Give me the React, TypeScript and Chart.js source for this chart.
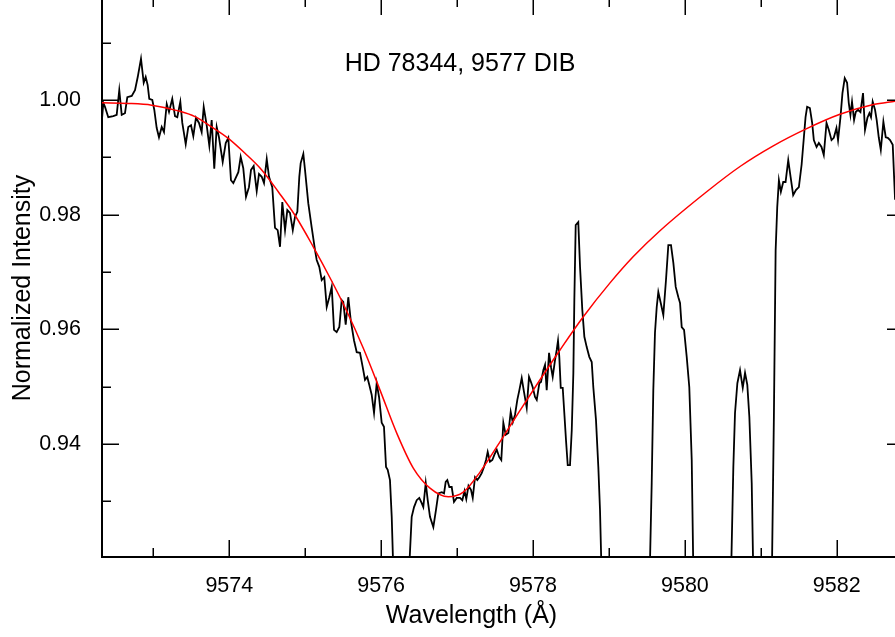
import React, { useEffect, useRef } from "react";
import { Chart, registerables } from "chart.js";

Chart.register(...registerables);

// ---- Axis ranges & ticks ----
const X_MIN = 9572.3235;
const X_MAX = 9582.767;
const Y_MIN = 0.92029;
const Y_MAX = 1.01744;
const X_MAJOR_TICKS = [9574, 9576, 9578, 9580, 9582];
const X_MINOR_TICKS = [9573, 9575, 9577, 9579, 9581];
const Y_MAJOR_TICKS = [0.94, 0.96, 0.98, 1.0];
const Y_MINOR_TICKS = [0.93, 0.95, 0.97, 0.99, 1.01];

const X_TITLE = "Wavelength (Å)";
const Y_TITLE = "Normalized Intensity";
const PLOT_LABEL = "HD 78344, 9577 DIB";

// ---- Observed spectrum ----
const WAVELENGTH = [
  9572.319, 9572.341, 9572.363, 9572.406, 9572.472, 9572.517, 9572.551, 9572.583, 9572.626, 9572.657,
  9572.715, 9572.758, 9572.794, 9572.837, 9572.873, 9572.899, 9572.925, 9572.946, 9572.986, 9573.012,
  9573.044, 9573.074, 9573.110, 9573.140, 9573.176, 9573.206, 9573.249, 9573.285, 9573.315, 9573.355,
  9573.381, 9573.426, 9573.460, 9573.496, 9573.526, 9573.561, 9573.601, 9573.636, 9573.663, 9573.702,
  9573.737, 9573.768, 9573.802, 9573.834, 9573.864, 9573.913, 9573.953, 9573.987, 9574.022, 9574.053,
  9574.119, 9574.150, 9574.184, 9574.220, 9574.259, 9574.286, 9574.321, 9574.361, 9574.391, 9574.427,
  9574.457, 9574.493, 9574.523, 9574.566, 9574.602, 9574.637, 9574.668, 9574.698, 9574.734, 9574.764,
  9574.799, 9574.836, 9574.865, 9574.896, 9574.922, 9574.940, 9574.975, 9574.997, 9575.040, 9575.085,
  9575.129, 9575.151, 9575.185, 9575.217, 9575.251, 9575.283, 9575.317, 9575.349, 9575.379, 9575.414,
  9575.449, 9575.480, 9575.501, 9575.533, 9575.567, 9575.599, 9575.642, 9575.678, 9575.721, 9575.757,
  9575.787, 9575.817, 9575.844, 9575.875, 9575.906, 9575.941, 9575.972, 9576.007, 9576.037, 9576.064,
  9576.086, 9576.116, 9576.139, 9576.189, 9576.248, 9576.320, 9576.402, 9576.433, 9576.468, 9576.502,
  9576.534, 9576.555, 9576.587, 9576.613, 9576.643, 9576.687, 9576.722, 9576.753, 9576.798, 9576.828,
  9576.850, 9576.871, 9576.898, 9576.929, 9576.959, 9576.995, 9577.038, 9577.069, 9577.098, 9577.121,
  9577.150, 9577.183, 9577.206, 9577.236, 9577.266, 9577.293, 9577.324, 9577.354, 9577.381, 9577.403,
  9577.433, 9577.464, 9577.490, 9577.522, 9577.556, 9577.582, 9577.609, 9577.640, 9577.675, 9577.706,
  9577.733, 9577.763, 9577.793, 9577.820, 9577.851, 9577.881, 9577.917, 9577.947, 9577.973, 9577.996,
  9578.026, 9578.049, 9578.083, 9578.105, 9578.136, 9578.158, 9578.180, 9578.211, 9578.237, 9578.259,
  9578.289, 9578.312, 9578.329, 9578.346, 9578.365, 9578.391, 9578.412, 9578.434, 9578.457, 9578.487,
  9578.510, 9578.531, 9578.544, 9578.562, 9578.596, 9578.619, 9578.649, 9578.676, 9578.707, 9578.741,
  9578.773, 9578.794, 9578.829, 9578.860, 9578.882, 9578.935, 9579.211, 9579.508, 9579.563, 9579.584,
  9579.606, 9579.629, 9579.650, 9579.682, 9579.716, 9579.751, 9579.782, 9579.817, 9579.848, 9579.879,
  9579.914, 9579.936, 9579.958, 9579.989, 9580.024, 9580.058, 9580.090, 9580.125, 9580.359, 9580.589,
  9580.638, 9580.660, 9580.691, 9580.726, 9580.762, 9580.792, 9580.822, 9580.849, 9580.880, 9580.917,
  9581.029, 9581.134, 9581.172, 9581.195, 9581.216, 9581.238, 9581.264, 9581.295, 9581.326, 9581.361,
  9581.392, 9581.426, 9581.462, 9581.501, 9581.537, 9581.567, 9581.589, 9581.610, 9581.646, 9581.676,
  9581.698, 9581.734, 9581.764, 9581.799, 9581.829, 9581.865, 9581.895, 9581.931, 9581.961, 9581.996,
  9582.017, 9582.049, 9582.075, 9582.105, 9582.136, 9582.158, 9582.180, 9582.201, 9582.228, 9582.250,
  9582.280, 9582.312, 9582.346, 9582.372, 9582.404, 9582.430, 9582.451, 9582.473, 9582.504, 9582.526,
  9582.553, 9582.580, 9582.614, 9582.645, 9582.672, 9582.702, 9582.737, 9582.768,
];
const FLUX = [
  0.9960, 0.9995, 0.9988, 0.9970, 0.9972, 0.9974, 1.0017, 0.9974, 0.9977, 1.0005,
  1.0007, 1.0017, 1.0040, 1.0072, 1.0030, 1.0040, 1.0026, 1.0002, 1.0000, 0.9983,
  0.9951, 0.9935, 0.9953, 0.9944, 0.9993, 0.9979, 1.0002, 0.9972, 0.9970, 0.9997,
  0.9960, 0.9923, 0.9953, 0.9956, 0.9937, 0.9969, 0.9960, 0.9944, 0.9988, 0.9956,
  0.9920, 0.9965, 0.9880, 0.9953, 0.9935, 0.9892, 0.9925, 0.9934, 0.9860, 0.9855,
  0.9874, 0.9901, 0.9881, 0.9831, 0.9848, 0.9878, 0.9885, 0.9841, 0.9871, 0.9866,
  0.9855, 0.9897, 0.9866, 0.9848, 0.9777, 0.9773, 0.9744, 0.9822, 0.9773, 0.9808,
  0.9803, 0.9773, 0.9796, 0.9805, 0.9866, 0.9890, 0.9906, 0.9878, 0.9820, 0.9778,
  0.9738, 0.9721, 0.9709, 0.9686, 0.9691, 0.9639, 0.9656, 0.9674, 0.9599, 0.9595,
  0.9604, 0.9651, 0.9648, 0.9608, 0.9656, 0.9616, 0.9581, 0.9560, 0.9559, 0.9534,
  0.9512, 0.9517, 0.9503, 0.9486, 0.9454, 0.9506, 0.9482, 0.9437, 0.9430, 0.9360,
  0.9355, 0.9337, 0.9273, 0.9050, 0.8950, 0.9050, 0.9273, 0.9290, 0.9302, 0.9306,
  0.9297, 0.9290, 0.9332, 0.9302, 0.9273, 0.9255, 0.9285, 0.9314, 0.9316, 0.9314,
  0.9334, 0.9337, 0.9325, 0.9325, 0.9299, 0.9306, 0.9306, 0.9302, 0.9318, 0.9304,
  0.9327, 0.9320, 0.9306, 0.9342, 0.9337, 0.9342, 0.9349, 0.9360, 0.9372, 0.9386,
  0.9369, 0.9372, 0.9381, 0.9390, 0.9377, 0.9372, 0.9437, 0.9416, 0.9419, 0.9456,
  0.9438, 0.9451, 0.9477, 0.9494, 0.9515, 0.9491, 0.9463, 0.9517, 0.9508, 0.9499,
  0.9482, 0.9477, 0.9506, 0.9508, 0.9529, 0.9538, 0.9494, 0.9559, 0.9534, 0.9517,
  0.9546, 0.9564, 0.9580, 0.9552, 0.9498, 0.9498, 0.9454, 0.9407, 0.9363, 0.9363,
  0.9424, 0.9524, 0.9651, 0.9782, 0.9787, 0.9709, 0.9634, 0.9587, 0.9569, 0.9552,
  0.9543, 0.9499, 0.9442, 0.9360, 0.9285, 0.9000, 0.8800, 0.9000, 0.9332, 0.9494,
  0.9594, 0.9639, 0.9665, 0.9646, 0.9625, 0.9686, 0.9747, 0.9747, 0.9716, 0.9674,
  0.9656, 0.9646, 0.9604, 0.9599, 0.9552, 0.9499, 0.9372, 0.9050, 0.8800, 0.9050,
  0.9360, 0.9454, 0.9506, 0.9529, 0.9498, 0.9524, 0.9503, 0.9447, 0.9332, 0.9050,
  0.8850, 0.9050, 0.9447, 0.9738, 0.9813, 0.9860, 0.9840, 0.9857, 0.9857, 0.9895,
  0.9866, 0.9834, 0.9843, 0.9848, 0.9887, 0.9935, 0.9970, 0.9988, 0.9986, 0.9960,
  0.9930, 0.9918, 0.9925, 0.9918, 0.9904, 0.9960, 0.9948, 0.9930, 0.9934, 0.9951,
  0.9930, 0.9970, 1.0012, 1.0038, 1.0030, 0.9995, 0.9974, 0.9997, 0.9965, 0.9979,
  0.9983, 0.9979, 1.0012, 0.9948, 0.9969, 0.9977, 0.9970, 0.9997, 0.9983, 0.9965,
  0.9935, 0.9913, 0.9962, 0.9935, 0.9934, 0.9930, 0.9922, 0.9826,
];

// ---- Fitted profile (red) ----
const FIT_WAVELENGTH = [
  9572.323, 9572.670, 9572.978, 9573.328, 9573.548, 9573.768, 9573.987, 9574.207, 9574.427, 9574.645,
  9574.865, 9575.106, 9575.326, 9575.546, 9575.765, 9575.985, 9576.205, 9576.423, 9576.643, 9576.884,
  9577.082, 9577.302, 9577.609, 9577.806, 9578.092, 9578.355, 9578.662, 9579.014, 9579.321,
  9579.672, 9580.287, 9580.726, 9581.164, 9581.604, 9582.042, 9582.483, 9582.768,
];
const FIT_FLUX = [
  0.9995, 0.9994, 0.9991, 0.9981, 0.9971, 0.9953, 0.9933, 0.9907, 0.9878, 0.9840,
  0.9799, 0.9744, 0.9690, 0.9632, 0.9567, 0.9494, 0.9419, 0.9358, 0.9323, 0.9308,
  0.9316, 0.9351, 0.9413, 0.9454, 0.9512, 0.9564, 0.9622, 0.9681, 0.9727,
  0.9772, 0.9840, 0.9884, 0.9920, 0.9950, 0.9975, 0.9992, 0.9998,
];

const FONT_FAMILY = '"Liberation Sans", Arial, Helvetica, sans-serif';

const frameDecor = {
  id: "frameDecor",
  afterDraw(chart: any) {
    const { ctx, chartArea, scales } = chart;
    const { left, right, top, bottom } = chartArea;
    const xs = scales.x;
    const ys = scales.y;
    const topEdge = top - 2;
    const rightEdge = right + 9;
    ctx.save();
    ctx.strokeStyle = "#000";
    ctx.lineWidth = 1.5;
    ctx.beginPath();
    const xTick = (v: number, len: number) => {
      const px = Math.round(xs.getPixelForValue(v)) + 0.25;
      ctx.moveTo(px, bottom);
      ctx.lineTo(px, bottom - len);
      ctx.moveTo(px, topEdge);
      ctx.lineTo(px, topEdge + len);
    };
    const yTick = (v: number, len: number) => {
      const py = Math.round(ys.getPixelForValue(v)) + 0.25;
      ctx.moveTo(left, py);
      ctx.lineTo(left + len, py);
      ctx.moveTo(rightEdge, py);
      ctx.lineTo(rightEdge - len, py);
    };
    X_MAJOR_TICKS.forEach((v) => xTick(v, 17));
    X_MINOR_TICKS.forEach((v) => xTick(v, 9));
    Y_MAJOR_TICKS.forEach((v) => yTick(v, 17));
    Y_MINOR_TICKS.forEach((v) => yTick(v, 9));
    ctx.stroke();

    ctx.fillStyle = "#000";
    ctx.textAlign = "center";
    ctx.textBaseline = "alphabetic";
    // x-axis title
    ctx.font = `25px ${FONT_FAMILY}`;
    ctx.fillText(X_TITLE, left + 369.5, bottom + 66);
    // y-axis title
    ctx.save();
    ctx.translate(left - 72, top + 288);
    ctx.rotate(-Math.PI / 2);
    ctx.fillText(Y_TITLE, 0, 0);
    ctx.restore();
    // in-plot label
    ctx.font = `25px ${FONT_FAMILY}`;
    ctx.fillText(PLOT_LABEL, left + 358, top + 71);
    ctx.restore();
  },
};

export default function App() {
  const canvasRef = useRef<HTMLCanvasElement | null>(null);

  useEffect(() => {
    const canvas = canvasRef.current;
    if (!canvas) return;
    const spectrum = WAVELENGTH.map((x, i) => ({ x, y: FLUX[i] }));
    const fit = FIT_WAVELENGTH.map((x, i) => ({ x, y: FIT_FLUX[i] }));

    const chart = new Chart(canvas, {
      type: "line",
      data: {
        datasets: [
          {
            label: "Fit",
            data: fit,
            borderColor: "#ff0000",
            borderWidth: 1.5,
            pointRadius: 0,
            fill: false,
            cubicInterpolationMode: "monotone",
            order: 0,
          },
          {
            label: "HD 78344",
            data: spectrum,
            borderColor: "#000000",
            borderWidth: 1.8,
            pointRadius: 0,
            fill: false,
            tension: 0,
            order: 1,
          },
        ],
      },
      options: {
        responsive: false,
        animation: false,
        devicePixelRatio: 1,
        layout: { padding: 0, autoPadding: false },
        plugins: {
          legend: { display: false },
          tooltip: { enabled: false },
          title: { display: false },
        },
        scales: {
          x: {
            type: "linear",
            min: X_MIN,
            max: X_MAX,
            afterBuildTicks: (axis: any) => {
              axis.ticks = X_MAJOR_TICKS.map((value) => ({ value }));
            },
            afterFit: (axis: any) => {
              axis.height = 80;
              axis.paddingLeft = 0;
              axis.paddingRight = 0;
            },
            grid: { display: true, drawOnChartArea: false, drawTicks: false },
            border: { display: true, color: "#000", width: 2 },
            ticks: {
              autoSkip: false,
              maxRotation: 0,
              padding: 16,
              color: "#000",
              font: { family: FONT_FAMILY, size: 21.5 },
              callback: (v: any) => String(v),
            },
          },
          y: {
            type: "linear",
            min: Y_MIN,
            max: Y_MAX,
            afterBuildTicks: (axis: any) => {
              axis.ticks = Y_MAJOR_TICKS.map((value) => ({ value }));
            },
            afterFit: (axis: any) => {
              axis.width = 102;
              axis.paddingTop = 0;
              axis.paddingBottom = 0;
            },
            grid: { display: true, drawOnChartArea: false, drawTicks: false },
            border: { display: true, color: "#000", width: 2 },
            ticks: {
              autoSkip: false,
              padding: 21,
              color: "#000",
              font: { family: FONT_FAMILY, size: 21.5 },
              callback: (v: any) => Number(v).toFixed(2),
            },
          },
        },
      },
      plugins: [frameDecor],
    });

    return () => {
      chart.destroy();
    };
  }, []);

  return (
    <div
      style={{
        position: "fixed",
        left: 0,
        top: 0,
        width: 895,
        height: 637,
        background: "#fff",
        overflow: "hidden",
      }}
    >
      <canvas
        ref={canvasRef}
        width={895}
        height={637}
        style={{ display: "block", width: 895, height: 637 }}
      />
    </div>
  );
}
